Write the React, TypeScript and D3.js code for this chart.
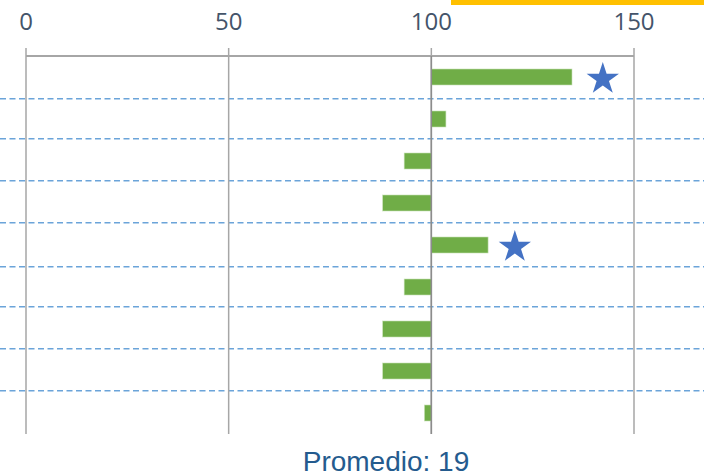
import React from "react";
import * as d3 from "d3";

const categories = ["A", "B", "C", "D", "E", "F", "G", "H", "I"];
const values = [134.7, 103.6, 93.3, 88.0, 114.0, 93.3, 88.0, 88.0, 98.3];
const baseline = 100;
const starCats = ["A", "E"];
const starValues = [142.3, 120.6];
const tickValues = [0, 50, 100, 150];
const dividerRows = [1.02, 1.97, 2.97, 3.97, 5.02, 5.97, 6.97, 7.97];
const footer = "Promedio: 19";

const W = 704;
const H = 476;

function starPath(cx: number, cy: number, R: number) {
  const r = R * 0.382;
  const pts: [number, number][] = [];
  for (let i = 0; i < 10; i++) {
    const a = -Math.PI / 2 + (i * Math.PI) / 5;
    const rad = i % 2 === 0 ? R : r;
    pts.push([cx + rad * Math.cos(a), cy + rad * Math.sin(a)]);
  }
  return d3.line()(pts) + "Z";
}

export default function App() {
  const x = d3.scaleLinear().domain([0, 150]).range([26, 634]);
  const y = d3.scaleBand().domain(categories).range([56, 434]).paddingInner(0).paddingOuter(0);
  const rowScale = d3.scaleLinear().domain([0, categories.length]).range([56, 434]);
  const barH = 16;
  return (
    <svg width={W} height={H} style={{ position: "absolute", left: 0, top: 0, background: "#fff" }}>
      <rect x={451} y={0} width={W - 451} height={5} fill="#ffc000" />
      {dividerRows.map((d, i) => (
        <line key={"d" + i} x1={0} x2={W} y1={rowScale(d)} y2={rowScale(d)} stroke="#5b9bd5" strokeWidth={1.5} strokeDasharray="6 3.5" opacity={0.9} />
      ))}
      {tickValues.map((t) => (
        <g key={"t" + t}>
          <line x1={x(t)} x2={x(t)} y1={48} y2={434} stroke="#a6a6a6" strokeWidth={1.5} />
          <text x={x(t)} y={30} textAnchor="middle" fontFamily="'Open Sans', sans-serif" fontSize={24} fill="#44546a">{t}</text>
        </g>
      ))}
      <line x1={x(0)} x2={x(150)} y1={56} y2={56} stroke="#a6a6a6" strokeWidth={2} />
      {categories.map((c, i) => {
        const v = values[i];
        const x0 = x(Math.min(v, baseline));
        const x1 = x(Math.max(v, baseline));
        const cy = (y(c) as number) + y.bandwidth() / 2;
        return <rect key={c} x={x0} y={cy - barH / 2} width={x1 - x0} height={barH} fill="#70ad47" stroke="#c5e0b4" strokeWidth={0.6} />;
      })}
      <line x1={x(baseline)} x2={x(baseline)} y1={56} y2={434} stroke="#8c8c8c" strokeWidth={1.5} />
      {starCats.map((c, i) => (
        <path key={"s" + c} d={starPath(x(starValues[i]), (y(c) as number) + y.bandwidth() / 2 + 2, 17)} fill="#4472c4" />
      ))}
      <text x={386} y={471} textAnchor="middle" fontFamily="'Liberation Sans', Arial, sans-serif" fontSize={28} fill="#245b8e">{footer}</text>
    </svg>
  );
}
